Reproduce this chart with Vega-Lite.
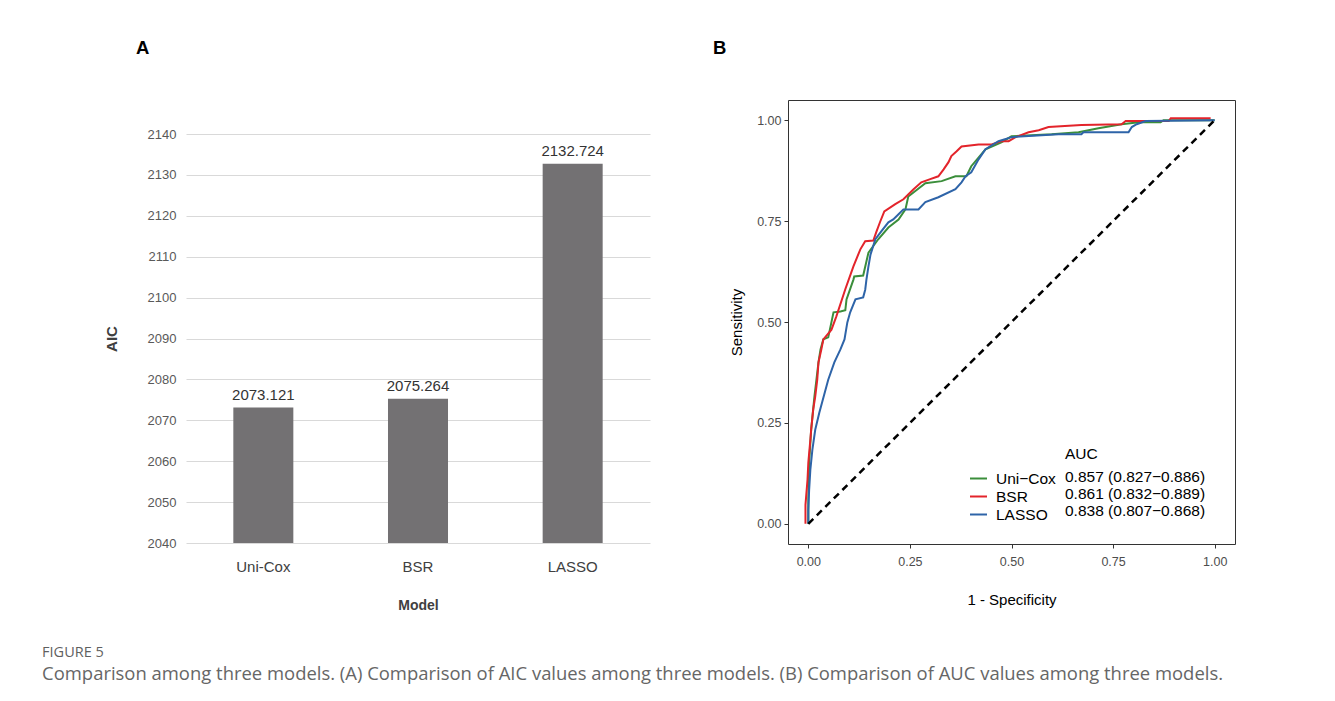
{
  "$schema": "https://vega.github.io/schema/vega-lite/v6.json",
  "background": "white",
  "padding": {"left": 42, "top": 38, "right": 5, "bottom": 5},
  "title": {
    "text": "FIGURE 5",
    "subtitle": "Comparison among three models. (A) Comparison of AIC values among three models. (B) Comparison of AUC values among three models.",
    "orient": "bottom", "anchor": "start", "frame": "bounds", "dx": -62, "offset": 0,
    "font": "Open Sans", "fontSize": 14.5, "fontWeight": "normal", "color": "#5f5f5f",
    "subtitleFont": "Open Sans", "subtitleFontSize": 18.45, "subtitleColor": "#666666", "subtitlePadding": 4
  },
  "datasets": {
    "aic": [
      {"model": "Uni-Cox", "aic": 2073.121},
      {"model": "BSR", "aic": 2075.264},
      {"model": "LASSO", "aic": 2132.724}
    ],
    "diag": [{"fpr": 0, "tpr": 0}, {"fpr": 1, "tpr": 1}],
    "roc": [
      {"model": "Uni−Cox", "auc": "0.857 (0.827−0.886)", "fpr": 0, "tpr": 0},
      {"model": "Uni−Cox", "auc": "0.857 (0.827−0.886)", "fpr": 0, "tpr": 0.060},
      {"model": "Uni−Cox", "auc": "0.857 (0.827−0.886)", "fpr": 0.002, "tpr": 0.151},
      {"model": "Uni−Cox", "auc": "0.857 (0.827−0.886)", "fpr": 0.007, "tpr": 0.233},
      {"model": "Uni−Cox", "auc": "0.857 (0.827−0.886)", "fpr": 0.015, "tpr": 0.315},
      {"model": "Uni−Cox", "auc": "0.857 (0.827−0.886)", "fpr": 0.020, "tpr": 0.357},
      {"model": "Uni−Cox", "auc": "0.857 (0.827−0.886)", "fpr": 0.025, "tpr": 0.400},
      {"model": "Uni−Cox", "auc": "0.857 (0.827−0.886)", "fpr": 0.030, "tpr": 0.432},
      {"model": "Uni−Cox", "auc": "0.857 (0.827−0.886)", "fpr": 0.037, "tpr": 0.457},
      {"model": "Uni−Cox", "auc": "0.857 (0.827−0.886)", "fpr": 0.049, "tpr": 0.462},
      {"model": "Uni−Cox", "auc": "0.857 (0.827−0.886)", "fpr": 0.062, "tpr": 0.524},
      {"model": "Uni−Cox", "auc": "0.857 (0.827−0.886)", "fpr": 0.079, "tpr": 0.526},
      {"model": "Uni−Cox", "auc": "0.857 (0.827−0.886)", "fpr": 0.091, "tpr": 0.529},
      {"model": "Uni−Cox", "auc": "0.857 (0.827−0.886)", "fpr": 0.094, "tpr": 0.556},
      {"model": "Uni−Cox", "auc": "0.857 (0.827−0.886)", "fpr": 0.111, "tpr": 0.605},
      {"model": "Uni−Cox", "auc": "0.857 (0.827−0.886)", "fpr": 0.113, "tpr": 0.613},
      {"model": "Uni−Cox", "auc": "0.857 (0.827−0.886)", "fpr": 0.135, "tpr": 0.615},
      {"model": "Uni−Cox", "auc": "0.857 (0.827−0.886)", "fpr": 0.148, "tpr": 0.672},
      {"model": "Uni−Cox", "auc": "0.857 (0.827−0.886)", "fpr": 0.172, "tpr": 0.705},
      {"model": "Uni−Cox", "auc": "0.857 (0.827−0.886)", "fpr": 0.197, "tpr": 0.734},
      {"model": "Uni−Cox", "auc": "0.857 (0.827−0.886)", "fpr": 0.222, "tpr": 0.754},
      {"model": "Uni−Cox", "auc": "0.857 (0.827−0.886)", "fpr": 0.239, "tpr": 0.779},
      {"model": "Uni−Cox", "auc": "0.857 (0.827−0.886)", "fpr": 0.246, "tpr": 0.811},
      {"model": "Uni−Cox", "auc": "0.857 (0.827−0.886)", "fpr": 0.288, "tpr": 0.844},
      {"model": "Uni−Cox", "auc": "0.857 (0.827−0.886)", "fpr": 0.328, "tpr": 0.849},
      {"model": "Uni−Cox", "auc": "0.857 (0.827−0.886)", "fpr": 0.362, "tpr": 0.861},
      {"model": "Uni−Cox", "auc": "0.857 (0.827−0.886)", "fpr": 0.389, "tpr": 0.861},
      {"model": "Uni−Cox", "auc": "0.857 (0.827−0.886)", "fpr": 0.401, "tpr": 0.886},
      {"model": "Uni−Cox", "auc": "0.857 (0.827−0.886)", "fpr": 0.436, "tpr": 0.928},
      {"model": "Uni−Cox", "auc": "0.857 (0.827−0.886)", "fpr": 0.475, "tpr": 0.945},
      {"model": "Uni−Cox", "auc": "0.857 (0.827−0.886)", "fpr": 0.500, "tpr": 0.960},
      {"model": "Uni−Cox", "auc": "0.857 (0.827−0.886)", "fpr": 0.599, "tpr": 0.965},
      {"model": "Uni−Cox", "auc": "0.857 (0.827−0.886)", "fpr": 0.665, "tpr": 0.970},
      {"model": "Uni−Cox", "auc": "0.857 (0.827−0.886)", "fpr": 0.714, "tpr": 0.980},
      {"model": "Uni−Cox", "auc": "0.857 (0.827−0.886)", "fpr": 0.771, "tpr": 0.990},
      {"model": "Uni−Cox", "auc": "0.857 (0.827−0.886)", "fpr": 0.813, "tpr": 0.995},
      {"model": "Uni−Cox", "auc": "0.857 (0.827−0.886)", "fpr": 0.867, "tpr": 0.995},
      {"model": "Uni−Cox", "auc": "0.857 (0.827−0.886)", "fpr": 0.874, "tpr": 1.000},
      {"model": "Uni−Cox", "auc": "0.857 (0.827−0.886)", "fpr": 1.000, "tpr": 1.000},

      {"model": "BSR", "auc": "0.861 (0.832−0.889)", "fpr": -0.007, "tpr": 0},
      {"model": "BSR", "auc": "0.861 (0.832−0.889)", "fpr": -0.007, "tpr": 0.047},
      {"model": "BSR", "auc": "0.861 (0.832−0.889)", "fpr": -0.002, "tpr": 0.109},
      {"model": "BSR", "auc": "0.861 (0.832−0.889)", "fpr": 0.000, "tpr": 0.151},
      {"model": "BSR", "auc": "0.861 (0.832−0.889)", "fpr": 0.005, "tpr": 0.208},
      {"model": "BSR", "auc": "0.861 (0.832−0.889)", "fpr": 0.007, "tpr": 0.233},
      {"model": "BSR", "auc": "0.861 (0.832−0.889)", "fpr": 0.012, "tpr": 0.283},
      {"model": "BSR", "auc": "0.861 (0.832−0.889)", "fpr": 0.017, "tpr": 0.315},
      {"model": "BSR", "auc": "0.861 (0.832−0.889)", "fpr": 0.022, "tpr": 0.357},
      {"model": "BSR", "auc": "0.861 (0.832−0.889)", "fpr": 0.025, "tpr": 0.400},
      {"model": "BSR", "auc": "0.861 (0.832−0.889)", "fpr": 0.032, "tpr": 0.432},
      {"model": "BSR", "auc": "0.861 (0.832−0.889)", "fpr": 0.037, "tpr": 0.457},
      {"model": "BSR", "auc": "0.861 (0.832−0.889)", "fpr": 0.057, "tpr": 0.481},
      {"model": "BSR", "auc": "0.861 (0.832−0.889)", "fpr": 0.069, "tpr": 0.514},
      {"model": "BSR", "auc": "0.861 (0.832−0.889)", "fpr": 0.091, "tpr": 0.581},
      {"model": "BSR", "auc": "0.861 (0.832−0.889)", "fpr": 0.111, "tpr": 0.638},
      {"model": "BSR", "auc": "0.861 (0.832−0.889)", "fpr": 0.128, "tpr": 0.680},
      {"model": "BSR", "auc": "0.861 (0.832−0.889)", "fpr": 0.140, "tpr": 0.700},
      {"model": "BSR", "auc": "0.861 (0.832−0.889)", "fpr": 0.160, "tpr": 0.702},
      {"model": "BSR", "auc": "0.861 (0.832−0.889)", "fpr": 0.167, "tpr": 0.722},
      {"model": "BSR", "auc": "0.861 (0.832−0.889)", "fpr": 0.177, "tpr": 0.749},
      {"model": "BSR", "auc": "0.861 (0.832−0.889)", "fpr": 0.187, "tpr": 0.774},
      {"model": "BSR", "auc": "0.861 (0.832−0.889)", "fpr": 0.214, "tpr": 0.792},
      {"model": "BSR", "auc": "0.861 (0.832−0.889)", "fpr": 0.234, "tpr": 0.804},
      {"model": "BSR", "auc": "0.861 (0.832−0.889)", "fpr": 0.259, "tpr": 0.829},
      {"model": "BSR", "auc": "0.861 (0.832−0.889)", "fpr": 0.278, "tpr": 0.846},
      {"model": "BSR", "auc": "0.861 (0.832−0.889)", "fpr": 0.300, "tpr": 0.854},
      {"model": "BSR", "auc": "0.861 (0.832−0.889)", "fpr": 0.320, "tpr": 0.861},
      {"model": "BSR", "auc": "0.861 (0.832−0.889)", "fpr": 0.333, "tpr": 0.878},
      {"model": "BSR", "auc": "0.861 (0.832−0.889)", "fpr": 0.345, "tpr": 0.896},
      {"model": "BSR", "auc": "0.861 (0.832−0.889)", "fpr": 0.352, "tpr": 0.911},
      {"model": "BSR", "auc": "0.861 (0.832−0.889)", "fpr": 0.365, "tpr": 0.923},
      {"model": "BSR", "auc": "0.861 (0.832−0.889)", "fpr": 0.377, "tpr": 0.935},
      {"model": "BSR", "auc": "0.861 (0.832−0.889)", "fpr": 0.419, "tpr": 0.940},
      {"model": "BSR", "auc": "0.861 (0.832−0.889)", "fpr": 0.451, "tpr": 0.940},
      {"model": "BSR", "auc": "0.861 (0.832−0.889)", "fpr": 0.475, "tpr": 0.948},
      {"model": "BSR", "auc": "0.861 (0.832−0.889)", "fpr": 0.493, "tpr": 0.948},
      {"model": "BSR", "auc": "0.861 (0.832−0.889)", "fpr": 0.510, "tpr": 0.958},
      {"model": "BSR", "auc": "0.861 (0.832−0.889)", "fpr": 0.542, "tpr": 0.970},
      {"model": "BSR", "auc": "0.861 (0.832−0.889)", "fpr": 0.567, "tpr": 0.975},
      {"model": "BSR", "auc": "0.861 (0.832−0.889)", "fpr": 0.591, "tpr": 0.983},
      {"model": "BSR", "auc": "0.861 (0.832−0.889)", "fpr": 0.672, "tpr": 0.988},
      {"model": "BSR", "auc": "0.861 (0.832−0.889)", "fpr": 0.771, "tpr": 0.990},
      {"model": "BSR", "auc": "0.861 (0.832−0.889)", "fpr": 0.781, "tpr": 0.998},
      {"model": "BSR", "auc": "0.861 (0.832−0.889)", "fpr": 0.887, "tpr": 0.998},
      {"model": "BSR", "auc": "0.861 (0.832−0.889)", "fpr": 0.892, "tpr": 1.005},
      {"model": "BSR", "auc": "0.861 (0.832−0.889)", "fpr": 0.990, "tpr": 1.005},

      {"model": "LASSO", "auc": "0.838 (0.807−0.868)", "fpr": 0, "tpr": 0},
      {"model": "LASSO", "auc": "0.838 (0.807−0.868)", "fpr": 0, "tpr": 0.035},
      {"model": "LASSO", "auc": "0.838 (0.807−0.868)", "fpr": 0.002, "tpr": 0.084},
      {"model": "LASSO", "auc": "0.838 (0.807−0.868)", "fpr": 0.005, "tpr": 0.134},
      {"model": "LASSO", "auc": "0.838 (0.807−0.868)", "fpr": 0.010, "tpr": 0.184},
      {"model": "LASSO", "auc": "0.838 (0.807−0.868)", "fpr": 0.017, "tpr": 0.233},
      {"model": "LASSO", "auc": "0.838 (0.807−0.868)", "fpr": 0.027, "tpr": 0.275},
      {"model": "LASSO", "auc": "0.838 (0.807−0.868)", "fpr": 0.039, "tpr": 0.320},
      {"model": "LASSO", "auc": "0.838 (0.807−0.868)", "fpr": 0.049, "tpr": 0.357},
      {"model": "LASSO", "auc": "0.838 (0.807−0.868)", "fpr": 0.064, "tpr": 0.400},
      {"model": "LASSO", "auc": "0.838 (0.807−0.868)", "fpr": 0.079, "tpr": 0.432},
      {"model": "LASSO", "auc": "0.838 (0.807−0.868)", "fpr": 0.089, "tpr": 0.457},
      {"model": "LASSO", "auc": "0.838 (0.807−0.868)", "fpr": 0.096, "tpr": 0.499},
      {"model": "LASSO", "auc": "0.838 (0.807−0.868)", "fpr": 0.103, "tpr": 0.524},
      {"model": "LASSO", "auc": "0.838 (0.807−0.868)", "fpr": 0.116, "tpr": 0.556},
      {"model": "LASSO", "auc": "0.838 (0.807−0.868)", "fpr": 0.135, "tpr": 0.561},
      {"model": "LASSO", "auc": "0.838 (0.807−0.868)", "fpr": 0.140, "tpr": 0.580},
      {"model": "LASSO", "auc": "0.838 (0.807−0.868)", "fpr": 0.143, "tpr": 0.605},
      {"model": "LASSO", "auc": "0.838 (0.807−0.868)", "fpr": 0.148, "tpr": 0.638},
      {"model": "LASSO", "auc": "0.838 (0.807−0.868)", "fpr": 0.153, "tpr": 0.667},
      {"model": "LASSO", "auc": "0.838 (0.807−0.868)", "fpr": 0.165, "tpr": 0.705},
      {"model": "LASSO", "auc": "0.838 (0.807−0.868)", "fpr": 0.180, "tpr": 0.725},
      {"model": "LASSO", "auc": "0.838 (0.807−0.868)", "fpr": 0.197, "tpr": 0.747},
      {"model": "LASSO", "auc": "0.838 (0.807−0.868)", "fpr": 0.209, "tpr": 0.754},
      {"model": "LASSO", "auc": "0.838 (0.807−0.868)", "fpr": 0.222, "tpr": 0.767},
      {"model": "LASSO", "auc": "0.838 (0.807−0.868)", "fpr": 0.234, "tpr": 0.779},
      {"model": "LASSO", "auc": "0.838 (0.807−0.868)", "fpr": 0.271, "tpr": 0.779},
      {"model": "LASSO", "auc": "0.838 (0.807−0.868)", "fpr": 0.288, "tpr": 0.797},
      {"model": "LASSO", "auc": "0.838 (0.807−0.868)", "fpr": 0.320, "tpr": 0.809},
      {"model": "LASSO", "auc": "0.838 (0.807−0.868)", "fpr": 0.362, "tpr": 0.829},
      {"model": "LASSO", "auc": "0.838 (0.807−0.868)", "fpr": 0.377, "tpr": 0.846},
      {"model": "LASSO", "auc": "0.838 (0.807−0.868)", "fpr": 0.387, "tpr": 0.861},
      {"model": "LASSO", "auc": "0.838 (0.807−0.868)", "fpr": 0.401, "tpr": 0.871},
      {"model": "LASSO", "auc": "0.838 (0.807−0.868)", "fpr": 0.419, "tpr": 0.903},
      {"model": "LASSO", "auc": "0.838 (0.807−0.868)", "fpr": 0.436, "tpr": 0.928},
      {"model": "LASSO", "auc": "0.838 (0.807−0.868)", "fpr": 0.468, "tpr": 0.948},
      {"model": "LASSO", "auc": "0.838 (0.807−0.868)", "fpr": 0.500, "tpr": 0.958},
      {"model": "LASSO", "auc": "0.838 (0.807−0.868)", "fpr": 0.616, "tpr": 0.965},
      {"model": "LASSO", "auc": "0.838 (0.807−0.868)", "fpr": 0.672, "tpr": 0.965},
      {"model": "LASSO", "auc": "0.838 (0.807−0.868)", "fpr": 0.677, "tpr": 0.970},
      {"model": "LASSO", "auc": "0.838 (0.807−0.868)", "fpr": 0.788, "tpr": 0.970},
      {"model": "LASSO", "auc": "0.838 (0.807−0.868)", "fpr": 0.796, "tpr": 0.983},
      {"model": "LASSO", "auc": "0.838 (0.807−0.868)", "fpr": 0.808, "tpr": 0.990},
      {"model": "LASSO", "auc": "0.838 (0.807−0.868)", "fpr": 0.830, "tpr": 0.998},
      {"model": "LASSO", "auc": "0.838 (0.807−0.868)", "fpr": 1.000, "tpr": 1.000}
    ]
  },
  "spacing": 62,
  "center": true,
  "hconcat": [
    {
      "width": 464,
      "height": 409,
      "title": {"text": "A", "anchor": "start", "frame": "group", "dx": -50, "offset": 71, "font": "Liberation Sans", "fontSize": 18.5, "fontWeight": "bold", "color": "black"},
      "data": {"name": "aic"},
      "encoding": {
        "x": {
          "field": "model", "type": "nominal", "sort": null,
          "scale": {"paddingInner": 0.612, "paddingOuter": 0.306},
          "axis": {
            "title": "Model", "labelAngle": 0, "domain": false, "ticks": false, "grid": false,
            "labelPadding": 16, "labelFont": "Liberation Sans", "labelFontSize": 15, "labelColor": "#404040",
            "titleFont": "Liberation Sans", "titleFontSize": 14, "titleFontWeight": "bold", "titleColor": "#404040", "titlePadding": 24
          }
        },
        "y": {
          "field": "aic", "type": "quantitative",
          "scale": {"domain": [2040, 2140], "nice": false, "zero": false},
          "axis": {
            "title": "AIC", "values": [2040, 2050, 2060, 2070, 2080, 2090, 2100, 2110, 2120, 2130, 2140], "format": "d",
            "domain": false, "ticks": false, "grid": true, "gridColor": "#d9d9d9", "gridWidth": 1,
            "labelPadding": 10, "labelFont": "Liberation Sans", "labelFontSize": 13, "labelColor": "#595959",
            "titleFont": "Liberation Sans", "titleFontSize": 15, "titleFontWeight": "bold", "titleColor": "#404040", "titlePadding": 28
          }
        }
      },
      "layer": [
        {"mark": {"type": "bar", "color": "#737173", "clip": true}},
        {
          "mark": {"type": "text", "baseline": "bottom", "dy": -5, "font": "Liberation Sans", "fontSize": 15, "color": "#333333"},
          "encoding": {"text": {"field": "aic", "type": "quantitative", "format": ".3f"}}
        }
      ]
    },
    {
      "width": 447,
      "height": 444,
      "title": {"text": "B", "anchor": "start", "frame": "group", "dx": -75, "offset": 43, "font": "Liberation Sans", "fontSize": 18.5, "fontWeight": "bold", "color": "black"},
      "view": {"stroke": "#333333", "strokeWidth": 1},
      "layer": [
        {
          "data": {"name": "roc"},
          "mark": {"type": "line", "strokeWidth": 2},
          "encoding": {
            "x": {
              "field": "fpr", "type": "quantitative",
              "scale": {"domain": [-0.05, 1.05], "nice": false, "zero": false},
              "axis": {
                "title": ["1 - Specificity", " ", " "], "titleLineHeight": 19, "values": [0, 0.25, 0.5, 0.75, 1], "format": ".2f",
                "grid": false, "domain": false, "tickColor": "#333333", "tickSize": 4,
                "labelFont": "Liberation Sans", "labelFontSize": 12.5, "labelColor": "#4d4d4d", "labelPadding": 7,
                "titleFont": "Liberation Sans", "titleFontSize": 15, "titleFontWeight": "normal", "titleColor": "black", "titlePadding": 25
              }
            },
            "y": {
              "field": "tpr", "type": "quantitative",
              "scale": {"domain": [-0.05, 1.05], "nice": false, "zero": false},
              "axis": {
                "title": "Sensitivity", "values": [0, 0.25, 0.5, 0.75, 1], "format": ".2f",
                "grid": false, "domain": false, "tickColor": "#333333", "tickSize": 4,
                "labelFont": "Liberation Sans", "labelFontSize": 12.5, "labelColor": "#4d4d4d", "labelPadding": 3,
                "titleFont": "Liberation Sans", "titleFontSize": 15, "titleFontWeight": "normal", "titleColor": "black", "titlePadding": 12
              }
            },
            "order": [{"field": "fpr", "type": "quantitative"}, {"field": "tpr", "type": "quantitative"}],
            "color": {
              "field": "model", "type": "nominal",
              "scale": {"domain": ["Uni−Cox", "BSR", "LASSO"], "range": ["#3B8E3B", "#E3242B", "#2E64A8"]},
              "legend": {
                "orient": "none", "legendX": 783, "legendY": 369, "title": null, "padding": 0,
                "symbolType": "stroke", "symbolSize": 289, "symbolStrokeWidth": 2, "rowPadding": 0,
                "labelOffset": 8, "labelFont": "Liberation Sans", "labelFontSize": 15.5, "labelColor": "black"
              }
            },
            "opacity": {
              "field": "auc", "type": "nominal",
              "scale": {"domain": ["0.857 (0.827−0.886)", "0.861 (0.832−0.889)", "0.838 (0.807−0.868)"], "range": [1, 1, 1]},
              "legend": {
                "orient": "none", "legendX": 879, "legendY": 347, "title": "AUC", "padding": 0,
                "titleFont": "Liberation Sans", "titleFontSize": 15.5, "titleFontWeight": "normal", "titleColor": "black", "titlePadding": 6,
                "symbolType": "stroke", "symbolSize": 289, "symbolOpacity": 0, "symbolStrokeWidth": 0, "rowPadding": 0,
                "labelOffset": -17, "labelFont": "Liberation Sans", "labelFontSize": 15.5, "labelColor": "black"
              }
            }
          }
        },
        {
          "data": {"name": "diag"},
          "mark": {"type": "line", "color": "black", "strokeDash": [7, 5], "strokeWidth": 2.5},
          "encoding": {
            "x": {"field": "fpr", "type": "quantitative"},
            "y": {"field": "tpr", "type": "quantitative"}
          }
        }
      ]
    }
  ],
  "config": {
    "view": {"stroke": null},
    "font": "Liberation Sans"
  }
}
